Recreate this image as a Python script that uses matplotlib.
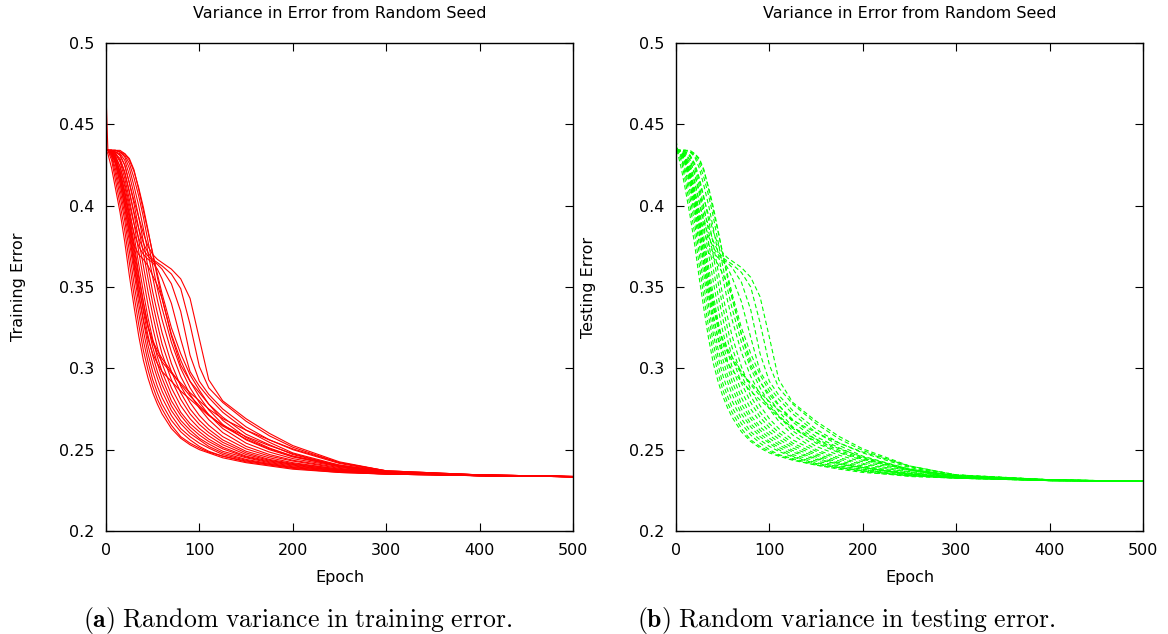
import matplotlib.pyplot as plt
from matplotlib.ticker import FuncFormatter
import numpy as np

epochs = [0, 2, 6, 10, 15, 20, 25, 30, 35, 40, 45, 50, 55, 60, 70, 80, 90,
          100, 110, 125, 150, 175, 200, 250, 300, 400, 500]

# --- training error (x1000), one list per random seed ---
train_bundle = [
    [434, 432, 423, 411, 396, 378, 357, 338, 320, 305, 294, 285, 278, 272, 263, 257, 253, 250, 248, 245, 242, 240, 238, 236, 235, 234, 233.4],
    [434, 434, 428, 416, 401, 385, 365, 345, 327, 311, 299, 289, 281, 275, 265, 258, 254, 251, 248.5, 246, 242.5, 240.5, 238.5, 236, 235, 234, 233.4],
    [434, 434, 430, 420, 406, 391, 372, 352, 334, 317, 304, 293, 285, 278, 268, 261, 256, 252, 249, 246, 243, 241, 239, 236.5, 235, 234, 233.4],
    [469, 434, 431, 423, 410, 395, 378, 359, 340, 323, 309, 298, 289, 282, 271, 263, 258, 254, 251, 247, 243.5, 241, 239, 236.5, 235, 234, 233.4],
    [434, 434, 432, 426, 414, 400, 384, 365, 346, 329, 314, 303, 294, 286, 274, 266, 260, 256, 252, 248, 244, 241.5, 239.5, 237, 235.5, 234, 233.4],
    [434, 434, 433, 428, 418, 404, 389, 371, 352, 335, 320, 308, 298, 290, 277, 268, 262, 257, 253.5, 249, 245, 242, 240, 237, 235.5, 234, 233.4],
    [434, 434, 433, 430, 421, 408, 394, 377, 358, 341, 326, 313, 303, 294, 280, 271, 264, 259, 255, 250.5, 245.5, 242.5, 240.5, 237, 235.5, 234, 233.4],
    [434, 434, 433, 431, 424, 412, 398, 382, 364, 347, 331, 318, 307, 298, 284, 273, 266, 261, 256.5, 251.5, 246, 243, 241, 237.5, 235.5, 234, 233.4],
    [434, 434, 433, 432, 427, 417, 404, 389, 372, 355, 339, 325, 313, 303, 288, 277, 269, 263, 258.5, 253, 247, 243.5, 241, 237.5, 235.5, 234, 233.4],
    [434, 434, 434, 432, 429, 421, 409, 395, 379, 363, 347, 333, 320, 309, 293, 281, 272, 265.5, 260.5, 254.5, 248, 244, 241.5, 238, 236, 234, 233.4],
    [434, 434, 434, 433, 431, 425, 414, 401, 386, 371, 355, 340, 327, 315, 298, 285, 275, 268, 262.5, 256, 249, 245, 242, 238, 236, 234.2, 233.4],
    [434, 434, 434, 433, 432, 428, 419, 407, 393, 378, 362, 347, 334, 322, 303, 289, 279, 271, 265, 258, 250.5, 246, 243, 238.5, 236, 234.2, 233.4],
    [434, 434, 434, 434, 433, 430, 423, 412, 400, 386, 371, 356, 342, 330, 310, 295, 284, 275.5, 268.5, 260.5, 252, 247, 243.5, 239, 236, 234.2, 233.4],
    [434, 434, 434, 434, 433, 431, 426, 417, 406, 393, 378, 363, 349, 337, 316, 300, 288, 279, 271.5, 263, 254, 248.5, 244.5, 239.5, 236.5, 234.3, 233.4],
    [434, 434, 434, 434, 433, 432, 428, 421, 411, 399, 385, 370, 356, 343, 321, 305, 292, 282.5, 274.5, 265.5, 256, 250, 245.5, 240, 236.5, 234.3, 233.4],
    [434, 434, 434, 434, 434, 432, 429, 422, 410, 397, 384, 371, 358, 346, 325, 309, 296, 286.5, 278, 268, 257.5, 251, 246, 240.5, 236.5, 234.3, 233.4],
]
train_shoulder = [
    [434, 434, 434, 433, 431, 425, 414, 403, 393, 383, 375, 370, 367, 365, 361, 355, 343, 318, 293, 280, 269, 260, 252.5, 242.5, 237, 234.5, 233.5],
    [434, 434, 434, 432, 428, 420, 408, 396, 386, 377, 371, 367, 365, 363, 358, 349, 327, 301, 288, 279, 267.5, 258.5, 251.5, 242, 237, 234.5, 233.5],
    [434, 434, 433, 430, 424, 414, 401, 389, 380, 373, 369, 366, 364, 361, 352, 335, 308, 292, 284, 275, 264, 256, 250, 241.5, 236.5, 234.5, 233.5],
    [434, 434, 433, 429, 421, 409, 395, 383, 375, 370, 367, 365, 361, 355, 340, 318, 298, 289, 282, 273, 262, 254.5, 248, 240.5, 236.5, 234.5, 233.5],
    [434, 434, 432, 427, 417, 403, 388, 376, 370, 367, 363, 357, 351, 343, 320, 302, 292, 285, 278, 270, 259.5, 253, 247, 240, 236, 234.5, 233.5],
]
train_tail = [
    [434, 434, 433, 429, 420, 407, 392, 374, 356, 340, 326, 316, 309, 304, 297, 291, 285, 280, 275, 269, 262, 256, 250.5, 242, 237, 234.5, 233.5],
    [434, 434, 432, 426, 414, 399, 382, 363, 345, 330, 318, 309, 303, 298, 292, 286, 281, 276, 271, 265, 258, 252.5, 247.5, 240, 236, 234.3, 233.4],
    [434, 434, 433, 428, 418, 404, 387, 368, 350, 336, 325, 317, 311, 306, 298, 290, 283, 277, 271.5, 264.5, 256.5, 250.5, 246, 239.5, 236, 234.3, 233.4],
]

# --- testing error (x1000) ---
test_bundle = [
    [434, 432, 422, 410, 394, 376, 355, 336, 318, 303, 292, 283, 276, 270, 261, 255, 251, 248, 246, 243.5, 240.5, 238, 236, 234, 232.5, 231, 230.5],
    [434, 433, 427, 415, 400, 383, 363, 343, 325, 309, 297, 287, 279, 273, 263, 256, 252, 249, 246.5, 244, 240.5, 238.5, 236.5, 233.5, 232.5, 231, 230.5],
    [434, 434, 429, 419, 405, 389, 370, 350, 332, 315, 302, 291, 283, 276, 266, 259, 254, 250, 247, 244.5, 241, 239, 237, 234, 232.5, 231, 230.5],
    [440, 434, 430, 422, 409, 394, 376, 357, 338, 321, 307, 296, 287, 280, 269, 261, 256, 252, 249, 245.5, 241.5, 239, 237, 234, 232.5, 231, 230.5],
    [434, 434, 431, 425, 413, 398, 382, 363, 344, 327, 312, 301, 292, 284, 272, 264, 258, 254, 250, 246, 242, 239.5, 237.5, 234.5, 232.5, 231, 230.5],
    [434, 434, 432, 427, 417, 402, 387, 369, 350, 333, 318, 306, 296, 288, 275, 266, 260, 255, 251.5, 247, 243, 240, 238, 234.5, 233, 231, 230.5],
    [434, 434, 433, 429, 420, 406, 392, 375, 356, 339, 324, 311, 301, 292, 278, 269, 262, 257, 253, 248.5, 244, 241, 238.5, 235, 233, 231, 230.5],
    [434, 434, 433, 430, 423, 410, 396, 380, 362, 345, 329, 316, 305, 296, 282, 271, 264, 259, 254.5, 249.5, 244.5, 241, 239, 235, 233, 231, 230.5],
    [434, 434, 433, 431, 426, 415, 402, 387, 370, 353, 337, 323, 311, 301, 286, 275, 267, 261, 256.5, 251, 245.5, 241.5, 239, 235, 233, 231, 230.5],
    [434, 434, 433, 432, 428, 419, 407, 393, 377, 361, 345, 331, 318, 307, 291, 279, 270, 263.5, 258.5, 252.5, 246.5, 242, 239.5, 235.5, 233, 231, 230.5],
    [434, 434, 434, 433, 430, 423, 412, 399, 384, 369, 353, 338, 325, 313, 296, 283, 273, 266, 260.5, 254, 247.5, 243, 240, 235.5, 233.5, 231, 230.5],
    [434, 434, 434, 433, 431, 426, 417, 405, 391, 376, 360, 345, 332, 320, 301, 287, 277, 269, 263, 256, 249, 244, 241, 236, 233.5, 231.2, 230.5],
    [434, 434, 434, 434, 433, 430, 423, 412, 400, 386, 371, 356, 342, 330, 310, 295, 284, 275, 267.5, 259, 250, 245, 241.5, 236.5, 233.5, 231.3, 230.5],
    [434, 434, 434, 434, 433, 431, 426, 417, 406, 393, 378, 363, 349, 337, 316, 300, 288, 278.5, 270.5, 261.5, 252, 246.5, 242.5, 237, 234, 231.4, 230.5],
    [434, 434, 434, 434, 433, 432, 428, 421, 411, 399, 385, 370, 356, 343, 321, 305, 292, 282, 273.5, 264, 254, 248, 243.5, 237.5, 234, 231.4, 230.5],
    [434, 434, 434, 434, 434, 432, 429, 422, 410, 397, 384, 371, 358, 346, 325, 309, 296, 286, 277.5, 267, 256, 249.5, 244.5, 238, 234, 231.4, 230.5],
]
test_shoulder = [
    [434, 434, 434, 433, 431, 425, 415, 404, 394, 384, 376, 371, 368, 366, 362, 356, 344, 319, 293, 279, 267.5, 258, 250.5, 240, 234.5, 231.5, 230.5],
    [434, 434, 434, 432, 428, 420, 409, 397, 387, 378, 372, 368, 366, 364, 359, 350, 328, 302, 288, 278, 266, 256.5, 249.5, 239.5, 234.5, 231.5, 230.5],
    [434, 434, 433, 430, 424, 414, 402, 390, 381, 374, 370, 367, 365, 362, 353, 336, 309, 292, 283.5, 274, 262.5, 254, 248, 239, 234, 231.5, 230.5],
    [434, 434, 433, 429, 421, 409, 396, 384, 376, 371, 368, 366, 362, 356, 341, 319, 298, 288.5, 281, 272, 260.5, 252.5, 246, 238, 234, 231.5, 230.5],
    [434, 434, 432, 427, 417, 403, 389, 377, 371, 368, 364, 358, 352, 344, 321, 302, 291.5, 284, 277, 268.5, 258, 251, 245, 237.5, 233.5, 231.5, 230.5],
]
test_tail = [
    [434, 434, 433, 429, 420, 407, 392, 375, 357, 341, 327, 317, 310, 305, 297, 291, 285, 279.5, 274.5, 268, 260.5, 254, 248.5, 240, 234.5, 231.5, 230.5],
    [434, 434, 432, 426, 414, 399, 382, 364, 346, 331, 319, 310, 304, 299, 292, 286, 280.5, 275.5, 270, 263.5, 256.5, 250.5, 245.5, 238, 234, 231.3, 230.5],
    [434, 434, 433, 428, 418, 404, 387, 369, 351, 337, 326, 318, 312, 307, 298, 290, 283, 276.5, 271, 263, 255, 248.5, 244, 237.5, 233.5, 231.3, 230.5],
]

titulo = 'Variance in Error from Random Seed'
xticks = [0, 100, 200, 300, 400, 500]
yticks = [0.2, 0.25, 0.3, 0.35, 0.4, 0.45, 0.5]

plt.rcParams['font.family'] = 'DejaVu Sans'
plt.rcParams['mathtext.fontset'] = 'cm'

fig = plt.figure(figsize=(11.68, 6.34), dpi=100)
ax1 = fig.add_axes([106 / 1168, 1 - 531 / 634, 467 / 1168, 488 / 634])
ax2 = fig.add_axes([676 / 1168, 1 - 531 / 634, 467 / 1168, 488 / 634])

def etiqueta(v, pos):
    return f'{v:g}'

paneles = [
    (ax1, train_bundle + train_shoulder + train_tail, '#ff0000', '-', 'Training Error'),
    (ax2, test_bundle + test_shoulder + test_tail, '#00ff00', '--', 'Testing Error'),
]

for ax, curvas, color, estilo, ylab in paneles:
    for c in curvas:
        linea, = ax.plot(epochs, np.array(c) / 1000.0, color=color, linewidth=0.8,
                         linestyle=estilo)
        if estilo == '--':
            linea.set_dashes((4, 2.5))
    ax.set_xlim(0, 500)
    ax.set_ylim(0.2, 0.5)
    ax.set_xticks(xticks)
    ax.set_yticks(yticks)
    ax.yaxis.set_major_formatter(FuncFormatter(etiqueta))
    ax.tick_params(direction='in', length=6, width=0.8, top=True, right=True,
                   labelsize=11.5, pad=8.5)
    for s in ax.spines.values():
        s.set_linewidth(1.0)
    ax.set_xlabel('Epoch', fontsize=11.5)
    ax.xaxis.set_label_coords(0.5, -0.096)
    ax.xaxis.label.set_va('center')
    ax.set_ylabel(ylab, fontsize=11.5)
    ax.yaxis.set_label_coords(-0.188, 0.5)
    ax.yaxis.label.set_va('center')
    ax.set_title(titulo, fontsize=11.5, y=1.061, va='center', pad=0)

fig.text(298 / 1168, 1 - 627 / 634,
         r'$\mathbf{(a)}\ \mathrm{Random\ variance\ in\ training\ error.}$',
         fontsize=18.5, ha='center', va='baseline')
fig.text(846 / 1168, 1 - 627 / 634,
         r'$\mathbf{(b)}\ \mathrm{Random\ variance\ in\ testing\ error.}$',
         fontsize=18.5, ha='center', va='baseline')

plt.savefig('out.png', dpi=100)
plt.close()
